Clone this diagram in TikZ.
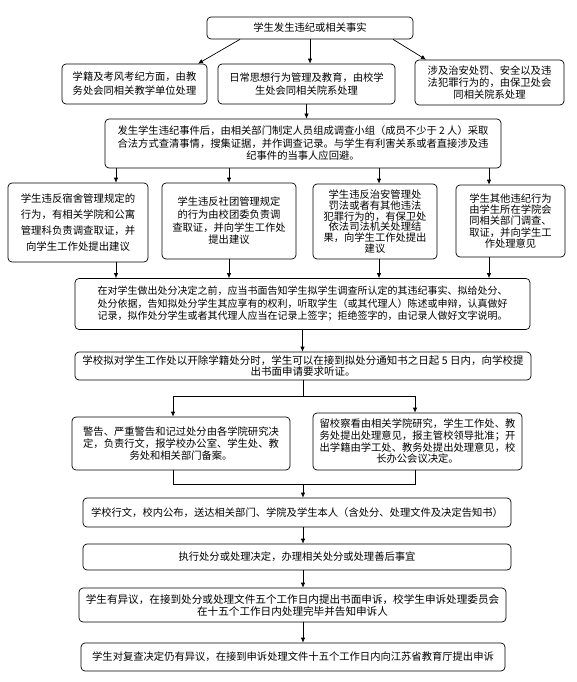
\documentclass[tikz,border=0pt]{standalone}
\usepackage{fontspec}
\newfontfamily\cjk{Noto Sans CJK SC}
\usetikzlibrary{arrows.meta}

\begin{document}
\begin{tikzpicture}[x=1pt,y=-1pt,
  box/.style={draw,line width=0.7pt,rounded corners=4pt,align=center,inner sep=0pt,font=\cjk\fontsize{10.3}{12.5}\selectfont},
  arr/.style={line width=0.7pt,-{Latex[length=5pt,width=4.5pt]}},
  ln/.style={line width=0.7pt}]
\useasboundingbox (0,0) rectangle (576,682);

\node[box,minimum width=206pt,minimum height=22pt] (event) at (310,28) {学生发生违纪或相关事实};
\node[box,minimum width=145pt,minimum height=40pt,font=\cjk\fontsize{10.3}{14}\selectfont] (xueji) at (134.5,84) {学籍及考风考纪方面，由教\\务处会同相关教学单位处理};
\node[box,minimum width=177pt,minimum height=40pt] (richang) at (306.5,84) {日常思想行为管理及教育，由校学\\生处会同相关院系处理};
\node[box,minimum width=149pt,minimum height=45pt,font=\cjk\fontsize{10.3}{12}\selectfont] (zhian) at (489.5,82.5) {涉及治安处罚、安全以及违\\法犯罪行为的，由保卫处会\\同相关院系处理};
\node[box,minimum width=396pt,minimum height=49pt] (diaocha) at (303,143.5) {发生学生违纪事件后，由相关部门制定人员组成调查小组（成员不少于 2 人）采取\\合法方式查清事情，搜集证据，并作调查记录。与学生有利害关系或者直接涉及违\\纪事件的当事人应回避。};

\node[box,minimum width=140pt,minimum height=79pt,font=\cjk\fontsize{10.4}{16}\selectfont] (sushe) at (78,222.5) {学生违反宿舍管理规定的\\行为，有相关学院和公寓\\管理科负责调查取证，并\\向学生工作处提出建议};
\node[box,minimum width=134pt,minimum height=76pt,font=\cjk\fontsize{10.3}{12.7}\selectfont] (shetuan) at (229,221) {学生违反社团管理规定\\的行为由校团委负责调\\查取证，并向学生工作处\\提出建议};
\node[box,minimum width=124pt,minimum height=75pt,font=\cjk\fontsize{10.3}{10.8}\selectfont] (fazhi) at (375,221.5) {学生违反治安管理处\\罚法或者有其他违法\\犯罪行为的，有保卫处\\依法司法机关处理结\\果，向学生工作处提出\\建议};
\node[box,minimum width=109pt,minimum height=72pt,font=\cjk\fontsize{10.3}{11.2}\selectfont] (qita) at (510.5,221) {学生其他违纪行为\\由学生所在学院会\\同相关部门调查、\\取证，并向学生工\\作处理意见};

\node[box,minimum width=455pt,minimum height=51pt,align=left,font=\cjk\fontsize{10}{12.5}\selectfont] (gaozhi) at (302.5,304) {在对学生做出处分决定之前，应当书面告知学生拟学生调查所认定的其违纪事实、拟给处分、\\处分依据，告知拟处分学生其应享有的权利，听取学生（或其代理人）陈述或申辩，认真做好\\记录，拟作处分学生或者其代理人应当在记录上签字；拒绝签字的，由记录人做好文字说明。};
\node[box,minimum width=456pt,minimum height=28pt,font=\cjk\fontsize{10.5}{11}\selectfont] (tingzheng) at (303,366) {学校拟对学生工作处以开除学籍处分时，学生可以在接到拟处分通知书之日起 5 日内，向学校提\\出书面申请要求听证。};

\node[box,minimum width=218pt,minimum height=53pt,font=\cjk\fontsize{10.3}{11.7}\selectfont] (jingao) at (181,443.5) {警告、严重警告和记过处分由各学院研究决\\定，负责行文，报学校办公室、学生处、教\\务处和相关部门备案。};
\node[box,minimum width=209pt,minimum height=57pt,font=\cjk\fontsize{10.3}{11.7}\selectfont] (liuxiao) at (417.5,441.5) {留校察看由相关学院研究，学生工作处、教\\务处提出处理意见，报主管校领导批准；开\\出学籍由学工处、教务处提出处理意见，校\\长办公会议决定。};

\node[box,minimum width=428pt,minimum height=29pt] (xingwen) at (297,512.5) {学校行文，校内公布，送达相关部门、学院及学生本人（含处分、处理文件及决定告知书）};
\node[box,minimum width=428pt,minimum height=26pt] (zhixing) at (297,557) {执行处分或处理决定，办理相关处分或处理善后事宜};
\node[box,minimum width=427pt,minimum height=34pt,font=\cjk\fontsize{10.6}{12}\selectfont] (shensu) at (292.5,605) {学生有异议，在接到处分或处理文件五个工作日内提出书面申诉，校学生申诉处理委员会\\在十五个工作日内处理完毕并告知申诉人};
\node[box,minimum width=424pt,minimum height=28pt] (fucha) at (293,657) {学生对复查决定仍有异议，在接到申诉处理文件十五个工作日内向江苏省教育厅提出申诉};

\coordinate (fork) at (303,396);
\coordinate (join) at (303,484);

\draw[arr] ([xshift=-70pt]event.south) -- ([xshift=63.5pt]xueji.north);
\draw[arr] (event.south) -- (event.south |- richang.north);
\draw[arr] ([xshift=83pt]event.south) -- ([xshift=-63.5pt]zhian.north);
\draw[arr] (richang.south) -- (richang.south |- diaocha.north);

\draw[arr] ([xshift=38pt]sushe.north |- diaocha.south) -- ([xshift=38pt]sushe.north);
\draw[arr] (shetuan.north |- diaocha.south) -- (shetuan.north);
\draw[arr] ([xshift=4pt]fazhi.north |- diaocha.south) -- ([xshift=4pt]fazhi.north);
\draw[arr] ([xshift=-21.5pt]qita.north |- diaocha.south) -- ([xshift=-21.5pt]qita.north);

\draw[arr] ([xshift=38pt]sushe.south) -- ([xshift=38pt]sushe.south |- gaozhi.north);
\draw[arr] (shetuan.south) -- (shetuan.south |- gaozhi.north);
\draw[arr] ([xshift=4pt]fazhi.south) -- ([xshift=4pt]fazhi.south |- gaozhi.north);
\draw[arr] ([xshift=-21.5pt]qita.south) -- ([xshift=-21.5pt]qita.south |- gaozhi.north);

\draw[arr] (gaozhi.south) -- (gaozhi.south |- tingzheng.north);
\draw[ln] (tingzheng.south) -- (fork);
\draw[arr] (fork) -| ([xshift=-8pt]jingao.north);
\draw[arr] (fork) -| ([xshift=-2.5pt]liuxiao.north);
\draw[ln] ([xshift=-8pt]jingao.south) |- (join);
\draw[ln] ([xshift=-2.5pt]liuxiao.south) |- (join);
\draw[arr] (join) -- (join |- xingwen.north);
\draw[arr] ([xshift=6pt]xingwen.south) -- ([xshift=6pt]xingwen.south |- zhixing.north);
\draw[arr] ([xshift=6pt]zhixing.south) -- ([xshift=6pt]zhixing.south |- shensu.north);
\draw[arr] ([xshift=10.5pt]shensu.south) -- ([xshift=10.5pt]shensu.south |- fucha.north);
\end{tikzpicture}
\end{document}
